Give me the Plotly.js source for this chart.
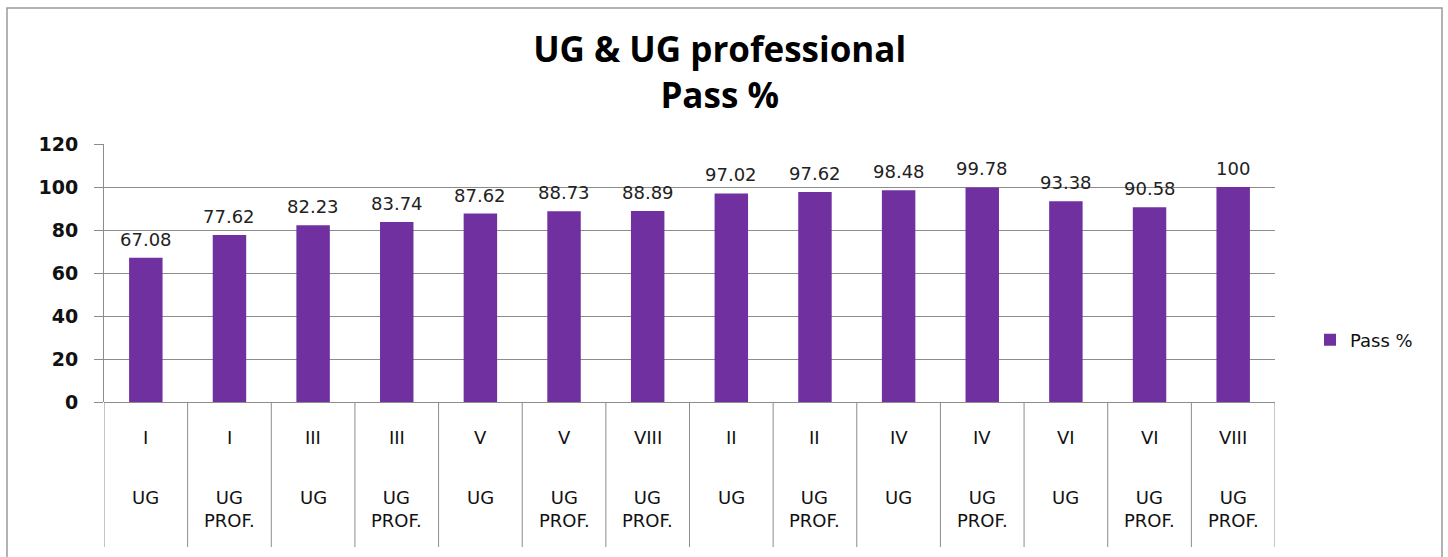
<!DOCTYPE html>
<html>
<head>
<meta charset="utf-8">
<script src="https://cdn.plot.ly/plotly-3.0.1.min.js"></script>
<style>
html,body{margin:0;padding:0;background:#fff;}
#chart{width:1448px;height:557px;}
</style>
</head>
<body>
<div id="chart"></div>
<script>
const semesters = ["I","I","III","III","V","V","VIII","II","II","IV","IV","VI","VI","VIII"];
const programs = ["UG","UG<br>PROF.","UG","UG<br>PROF.","UG","UG<br>PROF.","UG<br>PROF.","UG","UG<br>PROF.","UG","UG<br>PROF.","UG","UG<br>PROF.","UG<br>PROF."];
const passPct = [67.08,77.62,82.23,83.74,87.62,88.73,88.89,97.02,97.62,98.48,99.78,93.38,90.58,100];
const yTicks = [0,20,40,60,80,100,120];

const W = 1448, H = 557;
const L = 104, R = 173, T = 144, B = 155;
const pw = W - L - R, ph = H - T - B;
const px2paperX = p => (p - L) / pw;
const px2paperY = p => (H - B - p) / ph;

const idx = passPct.map((_, i) => i);

const trace = {
  type: 'bar',
  x: idx,
  y: passPct,
  name: 'Pass %',
  marker: {color: '#7030a0'},
  hoverinfo: 'x+y'
};

const shapes = [];
for (let i = 0; i <= semesters.length; i++) {
  shapes.push({type: 'line', xref: 'x', yref: 'paper', x0: i - 0.5, x1: i - 0.5,
    y0: 0, y1: px2paperY(547), line: {color: '#8c8c8c', width: 1}});
}
shapes.push({type: 'rect', xref: 'paper', yref: 'paper',
  x0: px2paperX(7), x1: px2paperX(1442), y0: px2paperY(560), y1: px2paperY(8),
  line: {color: '#9a9a9a', width: 1.5}, fillcolor: 'rgba(0,0,0,0)', layer: 'below'});

const annotations = [];
passPct.forEach((v, i) => {
  annotations.push({xref: 'x', yref: 'y', x: i, y: v, text: String(v), showarrow: false,
    yanchor: 'bottom', yshift: 6, font: {family: 'DejaVu Sans', size: 18, color: '#222'}});
});
semesters.forEach((s, i) => {
  annotations.push({xref: 'x', yref: 'paper', x: i, y: px2paperY(437), text: s, showarrow: false,
    font: {family: 'DejaVu Sans', size: 18, color: '#111'}, yanchor: 'middle'});
});
programs.forEach((p, i) => {
  annotations.push({xref: 'x', yref: 'paper', x: i, y: px2paperY(485), text: p, showarrow: false,
    font: {family: 'DejaVu Sans', size: 18, color: '#111'}, yanchor: 'top', align: 'center'});
});

const layout = {
  width: W, height: H,
  margin: {l: L, r: R, t: T, b: B, pad: 0},
  paper_bgcolor: '#fff', plot_bgcolor: '#fff',
  title: {text: 'UG & UG professional<br>Pass %', x: 0.497, xanchor: 'center', y: (H - 62) / H, yanchor: 'middle',
    font: {family: 'Open Sans', size: 35, color: '#000', weight: 'bold'}},
  bargap: 0.6,
  showlegend: true,
  legend: {x: px2paperX(1310), y: px2paperY(340), xanchor: 'left', yanchor: 'middle',
    font: {family: 'DejaVu Sans', size: 18, color: '#111'}, itemwidth: 30, bgcolor: 'rgba(0,0,0,0)'},
  xaxis: {range: [-0.5, semesters.length - 0.5], showticklabels: false, showgrid: false,
    zeroline: false, showline: false, ticks: '', fixedrange: true},
  yaxis: {range: [0, 120], tickvals: yTicks, ticktext: yTicks.map(String), ticks: 'outside', ticklen: 9,
    tickcolor: '#8c8c8c', showgrid: true, gridcolor: '#8c8c8c', gridwidth: 1,
    showline: true, linecolor: '#8c8c8c', linewidth: 1, zeroline: true, zerolinecolor: '#8c8c8c',
    tickfont: {family: 'DejaVu Sans', size: 19, color: '#111', weight: 'bold'}, ticklabelstandoff: 12, fixedrange: true},
  shapes: shapes,
  annotations: annotations
};

Plotly.newPlot('chart', [trace], layout, {displayModeBar: false, staticPlot: true});
</script>
</body>
</html>
